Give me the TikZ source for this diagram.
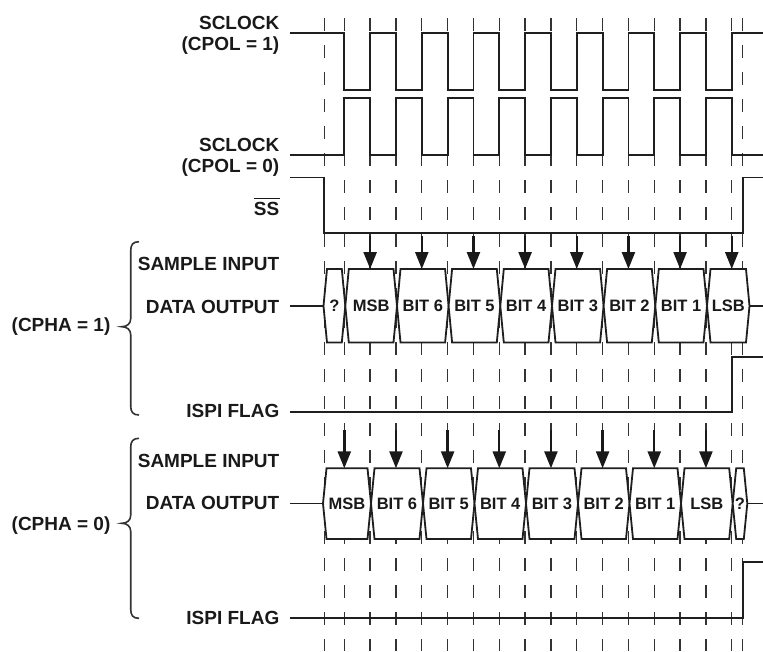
\documentclass[tikz,border=0pt]{standalone}
\usepackage{fontspec}
\setmainfont{Liberation Sans}
\usetikzlibrary{arrows.meta}
\begin{document}
\begin{tikzpicture}[x=1pt,y=-1pt,line join=miter,
  wave/.style={draw=black!88,line width=1.8pt},
  tick/.style={draw=black!80,line width=1.3pt,dash pattern=on 13pt off 14pt},
  lbl/.style={font=\fontsize{19}{22}\selectfont\bfseries,text=black!90,inner sep=0pt,anchor=base east},
  lblw/.style={font=\fontsize{19}{22}\selectfont\bfseries,text=black!90,inner sep=0pt,anchor=base west},
  bitlbl/.style={font=\fontsize{16.5}{18}\selectfont\bfseries,text=black!90,inner sep=0pt},
  databox/.style={draw=black!88,line width=1.8pt,fill=white},
  samp/.style={draw=black!90,line width=2.4pt,-{Triangle[width=13pt,length=17pt]}},
  brc/.style={draw=black!80,line width=1.6pt}]
\useasboundingbox (0,0) rectangle (763,651);
% dashed timing guides
\foreach \k in {0,...,15}{
  \pgfmathsetmacro\ex{344.3+25.83*\k}
  \draw[tick] (\ex,18) -- (\ex,651);
}
\draw[tick] (324.3,18) -- (324.3,651);
\draw[tick] (742.7,18) -- (742.7,651);
% labels
\node[lbl] (sc1a) at (279.5,29.5) {SCLOCK};
\node[lbl] (sc1b) at (279.5,50.5) {(CPOL = 1)};
\node[lbl] (sc0a) at (279.5,151) {SCLOCK};
\node[lbl] (sc0b) at (279.5,172.5) {(CPOL = 0)};
\node[lbl] (ss) at (279.5,215) {SS};
\draw[line width=1.4pt,black!90] ([yshift=3pt]ss.north west) -- ([yshift=3pt]ss.north east);
\node[lbl] (si1) at (279.5,270.7) {SAMPLE INPUT};
\node[lbl] (do1) at (279.5,313.3) {DATA OUTPUT};
\node[lblw] (ph1) at (11.5,331) {(CPHA = 1)};
\node[lbl] (fl1) at (279.5,417.7) {ISPI FLAG};
\node[lbl] (si0) at (279.5,467.3) {SAMPLE INPUT};
\node[lbl] (do0) at (279.5,509.3) {DATA OUTPUT};
\node[lblw] (ph0) at (11.5,530.7) {(CPHA = 0)};
\node[lbl] (fl0) at (279.5,624.7) {ISPI FLAG};
% braces
\draw[brc] (139,241.7) .. controls (133,241.7) and (130.7,244.7) .. (130.7,250.7) -- (130.7,318.7) .. controls (130.7,323.7) and (127,326.7) .. (121.7,326.7) .. controls (127,326.7) and (130.7,329.7) .. (130.7,334.7) -- (130.7,406) .. controls (130.7,412) and (133,415) .. (139,415);
\draw[brc] (139,438.3) .. controls (133,438.3) and (130.7,441.3) .. (130.7,447.3) -- (130.7,515.3) .. controls (130.7,520.3) and (127,523.3) .. (121.7,523.3) .. controls (127,523.3) and (130.7,526.3) .. (130.7,531.3) -- (130.7,609.3) .. controls (130.7,615.3) and (133,618.3) .. (139,618.3);
% SCLOCK CPOL=1
\draw[wave] (290,33.3) -- (344.3,33.3)
  \foreach \k in {0,...,7}{
    -- ({344.3+51.66*\k},33.3) -- ({344.3+51.66*\k},90) -- ({370.13+51.66*\k},90) -- ({370.13+51.66*\k},33.3)
  } -- (763,33.3);
% SCLOCK CPOL=0
\draw[wave] (290,155) -- (344.3,155)
  \foreach \k in {0,...,7}{
    -- ({344.3+51.66*\k},155) -- ({344.3+51.66*\k},98.3) -- ({370.13+51.66*\k},98.3) -- ({370.13+51.66*\k},155)
  } -- (763,155);
% SS
\draw[wave] (290,177.5) -- (324.3,177.5) -- (324.3,233) -- (742.7,233) -- (742.7,177.5) -- (763,177.5);
% ISPI flags
\draw[wave] (290,412.3) -- (731.75,412.3) -- (731.75,356.7) -- (763,356.7);
\draw[wave] (290,617.7) -- (742.7,617.7) -- (742.7,561.7) -- (763,561.7);
% data output CPHA=1
\draw[wave] (290,306) -- (323.5,306);
\draw[wave] (749.5,306) -- (763,306);
\foreach \a/\b/\t [count=\i] in {323.5/345.3/?,345.3/397/MSB,397/448.6/BIT 6,448.6/500.3/BIT 5,500.3/552/BIT 4,552/603.6/BIT 3,603.6/655.3/BIT 2,655.3/707/BIT 1,707/749.5/LSB}{
  \draw[databox] (\a,306) -- ({\a+3.5},269) -- ({\b-3.5},269) -- (\b,306) -- ({\b-3.5},342.5) -- ({\a+3.5},342.5) -- cycle;
  \node[bitlbl] (da\i) at ({(\a+\b)/2},306) {\t};
}
% data output CPHA=0
\draw[wave] (290,503.5) -- (323,503.5);
\draw[wave] (747.3,503.5) -- (763,503.5);
\foreach \a/\b/\t [count=\i] in {323/371/MSB,371/423/BIT 6,423/474.5/BIT 5,474.5/526/BIT 4,526/578/BIT 3,578/629.5/BIT 2,629.5/681/BIT 1,681/732.7/LSB,732.7/747.3/?}{
  \draw[databox] (\a,503.5) -- ({\a+3.5},468.3) -- ({\b-3.5},468.3) -- (\b,503.5) -- ({\b-3.5},539) -- ({\a+3.5},539) -- cycle;
  \node[bitlbl] (db\i) at ({(\a+\b)/2},503.5) {\t};
}
% sample arrows
\foreach \k in {1,3,...,15}{
  \pgfmathsetmacro\ex{344.3+25.83*\k}
  \draw[samp] (\ex,236) -- (\ex,269);
}
\foreach \k in {0,2,...,14}{
  \pgfmathsetmacro\ex{344.3+25.83*\k}
  \draw[samp] (\ex,430) -- (\ex,468.3);
}
\end{tikzpicture}
\end{document}
